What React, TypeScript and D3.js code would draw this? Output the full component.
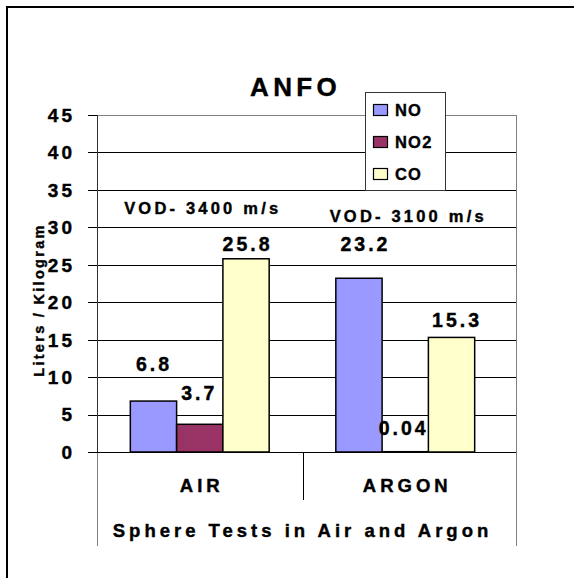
import React from 'react';
import * as d3 from 'd3';

// chart data
const categories = ['AIR', 'ARGON'];
const series = ['NO', 'NO2', 'CO'];
const values: number[][] = [
  [6.8, 3.7, 25.8], // AIR
  [23.2, 0.04, 15.3], // ARGON
];
const valueLabels: string[][] = [
  ['6.8', '3.7', '25.8'],
  ['23.2', '0.04', '15.3'],
];
const vodNotes = ['VOD- 3400 m/s', 'VOD- 3100 m/s'];
const yTicks = [0, 5, 10, 15, 20, 25, 30, 35, 40, 45];
const colors = ['#9999FF', '#993366', '#FFFFCC'];

// hand placed label nudges (Excel moved these around)
const labelNudge: [number, number][][] = [
  [[-1, -30], [-2, -24], [0, -8]],
  [[5, -27], [-3, -17], [4, -10]],
];
const vodY = [214, 222];

const FONT = "'Liberation Sans', Arial, sans-serif";
// slight stroke to get closer to the heavy Excel bold
const txt = { fontFamily: FONT, fontWeight: 700, stroke: '#000', strokeWidth: 0.4 } as React.CSSProperties;

export default function App() {
  const W = 574;
  const H = 578;
  const left = 97;
  const right = 516;
  const top = 115;
  const bottom = 452;

  const y = d3.scaleLinear().domain([0, 45]).range([bottom, top]);
  const x = d3.scaleBand<string>().domain(categories).range([left, 508]).padding(0);
  const xs = d3
    .scaleBand<string>()
    .domain(series)
    .range([0, x.bandwidth()])
    .paddingInner(0)
    .paddingOuter(0.72);

  const crisp = (v: number) => Math.round(v) + 0.5;
  const divider = crisp(x('ARGON')!);

  return (
    <svg
      width={W}
      height={H}
      style={{ position: 'absolute', left: 0, top: 0, display: 'block', background: '#fff' }}
    >
      <rect x={7} y={7} width={700} height={700} fill="#fff" stroke="#000" strokeWidth={2} />

      {/* gridlines */}
      {yTicks
        .filter((t) => t > 0 && t < 45)
        .map((t) => (
          <line key={t} x1={left} x2={right} y1={crisp(y(t))} y2={crisp(y(t))} stroke="#000" strokeWidth={1} />
        ))}

      {/* plot frame */}
      <line x1={left} x2={right} y1={crisp(top)} y2={crisp(top)} stroke="#808080" />
      <line x1={crisp(right)} x2={crisp(right)} y1={top} y2={546} stroke="#808080" />
      <line x1={crisp(left)} x2={crisp(left)} y1={bottom} y2={546} stroke="#808080" />
      <line x1={divider} x2={divider} y1={bottom} y2={500} stroke="#000" />

      {/* bars */}
      {categories.map((c, ci) =>
        series.map((s, si) => {
          const bx = x(c)! + xs(s)!;
          const by = y(values[ci][si]);
          return (
            <rect
              key={c + s}
              x={bx}
              y={by}
              width={xs.bandwidth()}
              height={Math.max(0, bottom - by)}
              fill={colors[si]}
              stroke="#000"
              strokeWidth={1.5}
            />
          );
        })
      )}

      {/* axes */}
      <line x1={crisp(left)} x2={crisp(left)} y1={top} y2={bottom} stroke="#333" />
      <line x1={88} x2={right} y1={crisp(bottom)} y2={crisp(bottom)} stroke="#000" />
      {yTicks.map((t) => (
        <g key={t}>
          <line x1={88} x2={left} y1={crisp(y(t))} y2={crisp(y(t))} stroke="#000" />
          <text x={75} y={y(t)} dy="0.36em" textAnchor="end" fontSize={19} letterSpacing={3} style={txt}>
            {t}
          </text>
        </g>
      ))}

      {/* value labels */}
      {categories.map((c, ci) =>
        series.map((s, si) => {
          const cx = x(c)! + xs(s)! + xs.bandwidth() / 2;
          const [dx, dy] = labelNudge[ci][si];
          return (
            <text
              key={'l' + c + s}
              x={cx + dx + 1.5}
              y={y(values[ci][si]) + dy}
              textAnchor="middle"
              fontSize={19.5}
              letterSpacing={3}
              style={txt}
            >
              {valueLabels[ci][si]}
            </text>
          );
        })
      )}

      {/* VOD notes */}
      {categories.map((c, ci) => (
        <text
          key={'v' + c}
          x={x(c)! + x.bandwidth() / 2 + 3}
          y={vodY[ci]}
          textAnchor="middle"
          fontSize={16.5}
          letterSpacing={3.2}
          style={txt}
        >
          {vodNotes[ci]}
        </text>
      ))}

      {/* category labels */}
      {categories.map((c) => (
        <text
          key={'c' + c}
          x={x(c)! + x.bandwidth() / 2 + 2}
          y={492}
          textAnchor="middle"
          fontSize={18.5}
          letterSpacing={4}
          style={txt}
        >
          {c}
        </text>
      ))}

      <text x={302.5} y={537} textAnchor="middle" fontSize={18.5} letterSpacing={4} style={txt}>
        Sphere Tests in Air and Argon
      </text>

      <text
        transform="translate(44,300) rotate(-90)"
        textAnchor="middle"
        fontSize={14.5}
        letterSpacing={2.3}
        style={txt}
      >
        Liters / Kilogram
      </text>

      <text x={295.5} y={96} textAnchor="middle" fontSize={26} letterSpacing={4.3} style={txt}>
        ANFO
      </text>

      {/* legend */}
      <g>
        <rect x={365.5} y={92.5} width={80} height={98} fill="#fff" stroke="#333" />
        {series.map((s, si) => (
          <g key={'lg' + s} transform={`translate(373.5,${104.5 + si * 32})`}>
            <rect width={14} height={11} fill={colors[si]} stroke="#000" strokeWidth={1.2} />
            <text x={21.5} y={11} fontSize={16.5} letterSpacing={1.2} style={txt}>
              {s}
            </text>
          </g>
        ))}
      </g>
    </svg>
  );
}
